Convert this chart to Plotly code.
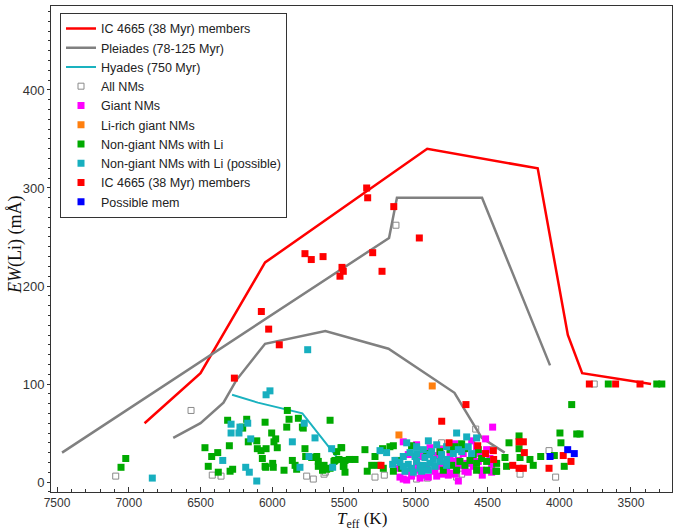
import plotly.graph_objects as go

# ---- Lithium sequences of reference clusters (Teff in K, EW(Li) in mÅ) ----
ic4665_teff = [6890, 6500, 6050, 4920, 4150, 3940, 3840, 3360]
ic4665_ew = [60, 111, 224, 340, 320, 150, 111, 100]

# Pleiades upper and lower envelopes (None separates the two branches)
pleiades_teff = [7465, 5186, 5131, 4538, 4064, None,
                 6690, 6500, 6340, 6250, 6050, 5630, 5190, 4730, 4540, 4380]
pleiades_ew = [30, 249, 290, 290, 119, None,
               45, 60, 81, 104, 141, 154, 136, 91, 45, 30]

hyades_teff = [6280, 6100, 5790, 5510]
hyades_ew = [89, 81, 70, 18]

# ---- Stars ----
all_nm_teff = [7091, 6566, 6418, 6357, 5760, 5714, 5639, 5630, 5284, 5219,
               5138, 4994, 4919, 4820, 4715, 4680, 4582, 4464, 4273, 4071,
               4025, 3756]
all_nm_ew = [6, 73, 7, 6, 6, 3, 8, 10, 5, 7,
             262, 3, 4, 40, 5, 8, 54, 33, 8, 32,
             5, 100]

giant_teff = [4464, 5087, 4994, 4901, 4831, 4727, 4610, 4513, 4576, 4506,
              5052, 4959, 4854, 4761, 4669, 4610, 4552, 4483, 4564, 4645,
              4738, 4808, 4703, 4994, 5121, 5063, 4982, 4924, 4831, 4785,
              4715, 4657, 4599, 4541, 4471, 4866, 4761, 4692, 5110, 5063,
              5029, 4959, 4912, 4854, 4773, 4727, 4703, 4634, 4536, 4471,
              5087, 4808, 4970]
giant_ew = [56, 41, 38, 35, 33, 39, 42, 44, 36, 33,
            28, 26, 27, 28, 29, 26, 29, 24, 21, 19,
            21, 19, 22, 19, 14, 11, 12, 16, 16, 12,
            14, 11, 16, 12, 17, 11, 9, 17, 5, 2,
            6, 7, 5, 6, 7, 8, 1, 10, 7, 10,
            3, 8, 4]

li_rich_teff = [4885, 5117]
li_rich_ew = [98, 48]

nongiant_teff = [7054, 7021,
                 6469, 6422, 6446, 6380, 6376, 6311, 6299, 6294, 6276, 6209,
                 6206, 6178, 6167, 6108, 6104, 6078, 6069, 6050, 6050, 6046,
                 6043, 6004, 5988, 5976, 5965, 5997, 5993, 5918, 5899, 5895,
                 5883, 5860, 5841, 5830, 5818, 5790, 5784, 5772, 5767, 5725,
                 5690, 5679, 5679, 5650, 5639, 5621, 5597, 5597, 5570, 5563,
                 5551, 5535, 5521, 5500,
                 5516, 5493, 5463, 5423, 5505, 5493, 5354, 5284, 5307, 5338,
                 5231, 5180, 5156, 5261, 5226, 5133, 5029, 4924, 4831, 4761,
                 4727, 4680, 4657, 4599, 4564, 4541, 4506, 4436, 4378, 4367,
                 4576, 4622, 4692, 4750, 4808, 4715, 4657, 4576, 4506, 4436,
                 5098, 5156, 4350, 4441,
                 4280, 4280, 4273, 4204, 4181, 4129, 4034, 3965, 3995, 3988,
                 3878, 3855, 3913, 3658, 3320, 3285]
nongiant_ew = [15, 24,
               35, 26, 16, 30, 10, 63, 37, 11, 13, 56,
               55, 64, 41, 42, 34, 32, 24, 61, 16, 15,
               34, 50, 41, 44, 35, 19, 15, 12, 56, 73,
               64, 22, 17, 13, 65, 56, 55, 34, 26, 25,
               26, 21, 16, 12, 17, 13, 63, 14, 21, 22,
               31, 23, 35, 16,
               35, 22, 23, 23, 16, 10, 33, 26, 17, 11,
               34, 36, 37, 17, 14, 22, 37, 29, 31, 33,
               36, 39, 34, 28, 33, 24, 21, 19, 25, 16,
               19, 22, 21, 17, 12, 12, 17, 12, 12, 11,
               14, 11, 40, 11,
               47, 34, 25, 23, 17, 26, 27, 16, 50, 40,
               49, 49, 79, 100, 100, 100]

possible_li_teff = [6836, 6345, 6287, 6287, 6225, 6232, 6171, 6150, 6185, 6160,
                    6108, 6043, 6016, 5860, 5777, 5753, 5744, 5702, 5807, 5586,
                    5579, 5249,
                    4715, 4645, 4576, 4912, 5063, 5203, 5161, 4994, 4854, 4785,
                    4703, 4634, 4947, 4889, 5040, 5087, 5005, 4936, 4878, 4820,
                    4738, 4680, 4610, 5110, 5052, 4994, 4947, 4901, 4831, 4785,
                    5029, 4970, 4912, 4866, 5075, 5017, 4959, 5087, 5145, 4901,
                    4994, 4785]
possible_li_ew = [4, 22, 59, 50, 56, 50, 60, 44, 15, 10,
                  1, 89, 93, 41, 60, 135, 26, 45, 15, 34,
                  15, 32,
                  50, 46, 45, 42, 40, 30, 18, 36, 38, 36,
                  33, 36, 33, 31, 30, 26, 26, 25, 23, 28,
                  29, 31, 29, 20, 18, 21, 17, 19, 21, 17,
                  14, 14, 12, 16, 11, 10, 11, 16, 22, 28,
                  29, 23]

member_teff = [5342, 5335, 5153, 4975, 5300, 5772, 5728, 5646, 5514, 5505,
               5528, 5235, 6076, 6025, 5951, 6264,
               4650, 4819, 4768, 4568, 4513, 4459, 4457, 5242, 4324, 4280,
               4250, 4243, 4280, 4250, 4071, 3972, 3918, 3790, 3607, 3437]
member_ew = [300, 290, 281, 249, 234, 233, 227, 230, 219, 215,
             210, 215, 174, 156, 140, 106,
             79, 62, 40, 37, 29, 32, 23, 17, 17, 41,
             41, 30, 14, 14, 14, 27, 21, 100, 100, 100]

possible_mem_teff = [3941, 3895, 4064]
possible_mem_ew = [33, 29, 26]

fig = go.Figure()

fig.add_trace(go.Scatter(x=ic4665_teff, y=ic4665_ew, mode="lines",
                         name="IC 4665 (38 Myr) members",
                         line=dict(color="#ff0000", width=2.5)))
fig.add_trace(go.Scatter(x=pleiades_teff, y=pleiades_ew, mode="lines",
                         name="Pleiades (78-125 Myr)", connectgaps=False,
                         line=dict(color="#808080", width=2.5)))
fig.add_trace(go.Scatter(x=hyades_teff, y=hyades_ew, mode="lines",
                         name="Hyades (750 Myr)",
                         line=dict(color="#1ab2bf", width=2)))

fig.add_trace(go.Scatter(x=all_nm_teff, y=all_nm_ew, mode="markers",
                         name="All NMs",
                         marker=dict(symbol="square-open", size=6,
                                     color="#8a8a8a", line=dict(width=1))))

point_sets = [
    (giant_teff, giant_ew, "Giant NMs", "#ff00ff"),
    (li_rich_teff, li_rich_ew, "Li-rich giant NMs", "#ff7f0e"),
    (nongiant_teff, nongiant_ew, "Non-giant NMs with Li", "#00aa00"),
    (possible_li_teff, possible_li_ew, "Non-giant NMs with Li (possible)", "#17afbf"),
    (member_teff, member_ew, "IC 4665 (38 Myr) members", "#ff0000"),
    (possible_mem_teff, possible_mem_ew, "Possible mem", "#0000ff"),
]
for tx, ew, label, colour in point_sets:
    fig.add_trace(go.Scatter(x=tx, y=ew, mode="markers", name=label,
                             marker=dict(symbol="square", size=7, color=colour,
                                         line=dict(width=0))))

sans = "Liberation Sans, Arial, sans-serif"
axis_common = dict(showline=True, linecolor="#333333", linewidth=1, mirror=True,
                   showgrid=False, zeroline=False, tickcolor="#333333")
title_font = dict(family="Liberation Serif, Times New Roman, serif", size=17,
                  color="#111111")

fig.update_layout(
    width=673, height=530,
    margin=dict(l=51, r=1, t=6, b=38, autoexpand=False),
    paper_bgcolor="white", plot_bgcolor="white",
    showlegend=True,
    legend=dict(x=0.0145, y=0.986, xanchor="left", yanchor="top",
                bgcolor="white", bordercolor="#333333", borderwidth=1,
                font=dict(family=sans, size=12.5, color="#222222"),
                tracegroupgap=0),
    xaxis=dict(range=[7542, 3214], tick0=3500, dtick=500,
               ticks="inside", ticklen=5,
               tickfont=dict(family=sans, size=12, color="#333333"),
               minor=dict(dtick=100, ticks="inside", ticklen=3, tickcolor="#333333"),
               **axis_common),
    yaxis=dict(range=[-10.2, 485.7], tick0=0, dtick=100,
               ticks="outside", ticklen=3,
               tickfont=dict(family=sans, size=13, color="#333333"),
               minor=dict(dtick=10, ticks="outside", ticklen=2, tickcolor="#333333"),
               **axis_common),
    annotations=[
        dict(text="<i>T</i><sub>eff</sub> (K)", xref="paper", yref="paper",
             x=0.5, y=-0.058, xanchor="center", yanchor="middle",
             showarrow=False, font=title_font),
        dict(text="<i>EW</i>(Li) (mÅ)", xref="paper", yref="paper",
             x=-0.058, y=0.508, xanchor="center", yanchor="middle",
             textangle=-90, showarrow=False,
             font=dict(family="Liberation Serif, Times New Roman, serif", size=18,
                       color="#111111")),
    ],
)

fig.write_html("out.html")
